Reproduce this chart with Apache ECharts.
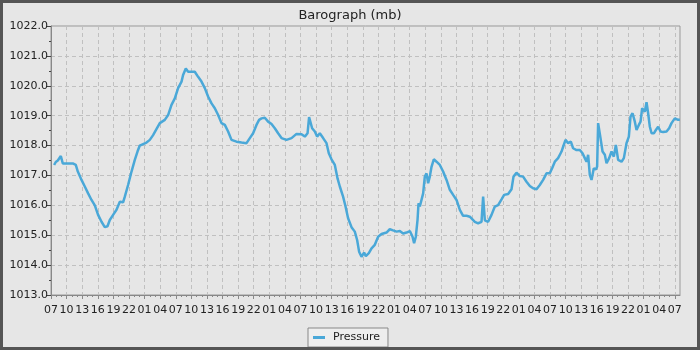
<!DOCTYPE html>
<html><head><meta charset="utf-8">
<script src="https://cdn.jsdelivr.net/npm/echarts@6/dist/echarts.min.js"></script>
<style>html,body{margin:0;padding:0;background:#e6e6e6}#main{width:700px;height:350px}</style>
</head><body><div id="main"></div>
<script>
const chartTitle = 'Barograph (mb)';
const seriesName = 'Pressure';
// x-axis tick labels (clock hour every 3 hours, starting 07:00)
const hourLabels = ['07','10','13','16','19','22','01','04'];
// y-axis range (mb)
const yMin = 1013, yMax = 1022;
// hours since first 07:00
const hours = [
0.6,0.92,1.31,1.89,2.27,3.23,4.19,4.77,5.16,5.87,6.5,7.14,7.79,8.43,9.06,9.72,10.35,10.87,11.31,11.95,
12.6,13.24,13.87,14.2,14.83,15.49,16.12,16.64,17.08,17.72,18.37,19.01,19.64,19.97,20.93,21.89,22.53,23.18,23.82,24.45,
25.11,25.41,25.93,26.38,27.03,27.66,28.3,28.95,29.59,30.22,30.88,31.51,32.15,32.8,33.44,34.07,34.72,35.69,36.65,37.61,
38.25,38.88,39.53,40.03,40.5,41.13,41.77,42.42,43.05,43.69,44.34,45.3,46.27,47.23,48.19,48.83,49.35,49.65,50.23,50.75,
51.19,51.71,52.35,53.0,53.44,53.96,54.6,55.12,55.56,56.19,56.66,57.15,57.81,58.44,58.89,59.27,59.73,60.23,60.56,61.14,
61.66,62.29,62.93,63.58,64.54,65.17,65.81,66.47,67.1,67.74,68.39,69.03,69.55,69.85,70.18,70.51,70.7,70.95,71.28,71.59,
71.91,72.24,72.55,72.87,73.2,73.64,74.16,74.8,75.43,76.09,76.72,77.36,78.01,78.65,79.28,79.94,80.57,80.9,81.53,82.17,
82.82,83.13,83.46,84.09,84.74,85.38,86.01,86.67,87.17,87.94,88.59,88.97,89.55,90.18,90.82,91.47,92.11,92.74,93.4,94.03,
94.67,95.32,95.95,96.4,96.92,97.55,98.21,98.52,98.98,99.48,100.0,100.44,101.1,101.73,102.25,102.69,103.02,103.33,103.65,103.98,
104.42,104.81,105.06,105.25,105.71,106.1,106.54,106.87,107.37,107.83,108.27,108.66,109.1,109.75,110.2,110.71,111.16,111.48,111.87,112.31,
112.64,113.08,113.41,113.72,114.23,114.56,114.87,115.2,115.53,115.97,116.36,116.8,117.26,117.76,118.41,118.91,119.37,120.0,120.64,120.97
];
const pressure = [
1017.35,1017.45,1017.5,1017.65,1017.4,1017.4,1017.4,1017.35,1017.13,1016.85,1016.63,1016.4,1016.18,1016.0,1015.68,1015.45,1015.27,1015.3,1015.51,1015.68,
1015.85,1016.12,1016.1,1016.29,1016.68,1017.13,1017.52,1017.8,1018.0,1018.05,1018.1,1018.19,1018.35,1018.41,1018.75,1018.86,1019.02,1019.36,1019.58,1019.92,
1020.14,1020.36,1020.58,1020.47,1020.47,1020.47,1020.3,1020.14,1019.92,1019.64,1019.41,1019.25,1019.02,1018.75,1018.69,1018.47,1018.19,1018.13,1018.1,1018.08,
1018.25,1018.41,1018.69,1018.86,1018.91,1018.93,1018.8,1018.72,1018.58,1018.41,1018.25,1018.19,1018.25,1018.39,1018.38,1018.3,1018.41,1018.95,1018.58,1018.47,
1018.3,1018.41,1018.25,1018.08,1017.74,1017.54,1017.35,1016.9,1016.63,1016.29,1015.96,1015.57,1015.27,1015.12,1014.84,1014.45,1014.28,1014.42,1014.3,1014.4,
1014.56,1014.68,1014.95,1015.04,1015.09,1015.2,1015.16,1015.12,1015.14,1015.06,1015.09,1015.14,1014.95,1014.73,1014.95,1015.51,1016.07,1015.96,1016.0,1016.4,
1016.96,1017.07,1016.74,1016.96,1017.29,1017.54,1017.46,1017.35,1017.13,1016.85,1016.52,1016.35,1016.18,1015.85,1015.65,1015.65,1015.62,1015.57,1015.45,1015.4,
1015.45,1016.29,1015.5,1015.45,1015.68,1015.96,1016.01,1016.2,1016.35,1016.38,1016.54,1016.96,1017.09,1016.98,1016.96,1016.79,1016.65,1016.57,1016.54,1016.68,
1016.85,1017.07,1017.07,1017.24,1017.46,1017.58,1017.8,1017.96,1018.19,1018.08,1018.13,1017.91,1017.85,1017.85,1017.74,1017.58,1017.46,1017.69,1017.02,1016.85,
1017.24,1017.2,1017.3,1018.75,1018.25,1017.8,1017.69,1017.41,1017.58,1017.8,1017.63,1018.02,1017.52,1017.46,1017.58,1018.08,1018.3,1018.97,1019.08,1018.8,
1018.52,1018.69,1018.8,1019.25,1019.13,1019.45,1019.08,1018.63,1018.41,1018.41,1018.52,1018.63,1018.47,1018.45,1018.47,1018.58,1018.75,1018.91,1018.86,1018.86
];
const xMax = 121;
const labelHours = [];
for (let h = 0; h <= 120; h += 3) labelHours.push(h);

const font = 'DejaVu Sans';
const chart = echarts.init(document.getElementById('main'), null, {renderer: 'canvas'});
chart.setOption({
  backgroundColor: '#e6e6e6',
  animation: false,
  title: {
    text: chartTitle, left: 'center', top: 4,
    textStyle: {fontFamily: font, fontSize: 13, fontWeight: 'normal', color: '#222'}
  },
  legend: {
    data: [{name: seriesName, icon: 'rect'}],
    left: 308, top: 328,
    itemWidth: 12, itemHeight: 3,
    padding: [4, 8, 4, 5],
    borderColor: '#888', borderWidth: 1,
    backgroundColor: '#eeeeee',
    textStyle: {fontFamily: font, fontSize: 11, color: '#222', padding: [0, 0, 0, 3]}
  },
  grid: {
    left: 51, right: 20, top: 26, bottom: 55,
    show: true, borderColor: '#999', borderWidth: 1, backgroundColor: 'transparent'
  },
  xAxis: {
    type: 'value', min: 0, max: xMax, interval: 3,
    axisLine: {show: true, lineStyle: {color: '#888'}},
    axisTick: {show: true, length: 4, lineStyle: {color: '#888'}, customValues: labelHours},
    minorTick: {show: true, splitNumber: 3, length: 2, lineStyle: {color: '#888'}},
    axisLabel: {
      customValues: labelHours,
      fontFamily: font, fontSize: 11, color: '#222', margin: 10,
      formatter: v => (Math.round(v) % 3 === 0 ? hourLabels[(Math.round(v) / 3) % 8] : '')
    },
    splitLine: {show: true, lineStyle: {color: '#c0c0c0', type: [4, 3], width: 1}}
  },
  yAxis: {
    type: 'value', min: yMin, max: yMax, interval: 1,
    axisLine: {show: true, lineStyle: {color: '#888'}},
    axisTick: {show: true, length: 5, lineStyle: {color: '#444'}},
    minorTick: {show: true, splitNumber: 2, length: 2, lineStyle: {color: '#444'}},
    axisLabel: {fontFamily: font, fontSize: 11, color: '#222', margin: 3, formatter: v => v.toFixed(1)},
    splitLine: {show: true, lineStyle: {color: '#c0c0c0', type: [4, 3], width: 1}}
  },
  series: [{
    name: seriesName, type: 'line',
    data: hours.map((h, i) => [h, pressure[i]]),
    showSymbol: false, symbol: 'none',
    lineStyle: {color: '#4aa8d8', width: 2.5},
    itemStyle: {color: '#4aa8d8'},
    clip: true
  }],
  graphic: [{
    type: 'rect', silent: true, z: 100,
    shape: {x: 1.5, y: 1.5, width: 697, height: 347},
    style: {fill: null, stroke: '#555555', lineWidth: 3}
  }]
});
</script>
</body></html>
